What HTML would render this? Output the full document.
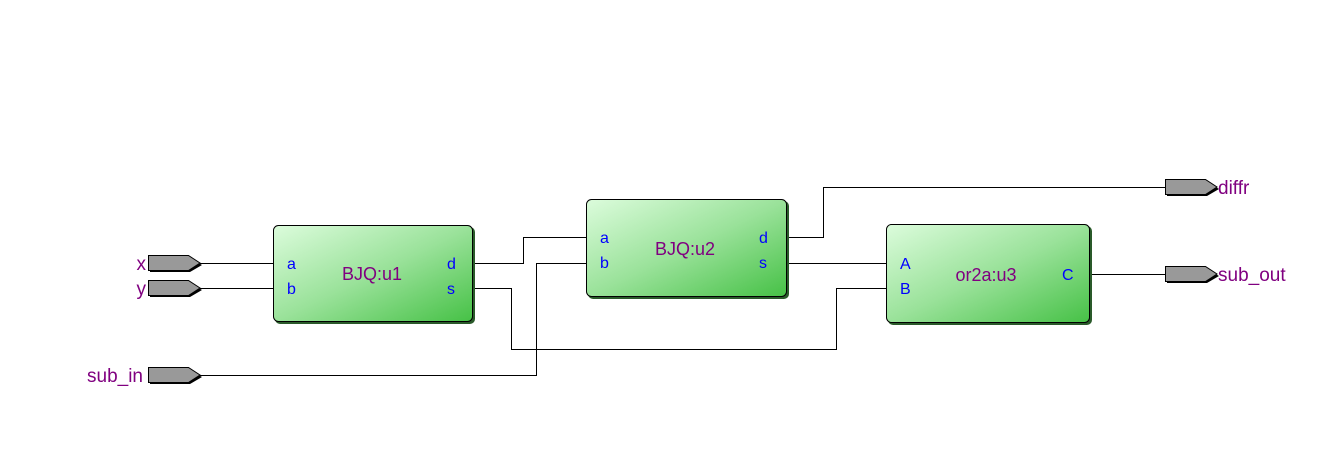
<!DOCTYPE html>
<html><head><meta charset="utf-8"><style>
html,body{margin:0;padding:0;background:#fff;width:1339px;height:454px;overflow:hidden}
svg{display:block}
text{font-family:"Liberation Sans",Arial,sans-serif}
</style></head><body>
<svg width="1339" height="454" viewBox="0 0 1339 454" xmlns="http://www.w3.org/2000/svg">
<defs>
<linearGradient id="g" x1="0" y1="0" x2="1" y2="1">
<stop offset="0" stop-color="#dcfcdc"/><stop offset="0.5" stop-color="#9ae29a"/><stop offset="1" stop-color="#46c146"/>
</linearGradient>
</defs>
<g fill="none" stroke="#000" stroke-width="1">
<path d="M200 263.5H273"/>
<path d="M200 288.5H273"/>
<path d="M473 263.5H523.5V237.5H586"/>
<path d="M473 288.5H511.5V349.5H836.5V288.5H886"/>
<path d="M200 375.5H536.5V263.5H586"/>
<path d="M788 237.5H823.5V187.5H1165"/>
<path d="M788 263.5H886"/>
<path d="M1091 274.5H1165"/>
</g>
<g>
<rect x="275" y="227" width="200" height="97" rx="5" fill="#2a5a2a"/>
<rect x="273.5" y="225.5" width="199" height="96" rx="5" fill="url(#g)" stroke="#000"/>
<rect x="588" y="201" width="201" height="98" rx="5" fill="#2a5a2a"/>
<rect x="586.5" y="199.5" width="200" height="97" rx="5" fill="url(#g)" stroke="#000"/>
<rect x="888" y="226" width="204" height="99" rx="5" fill="#2a5a2a"/>
<rect x="886.5" y="224.5" width="203" height="98" rx="5" fill="url(#g)" stroke="#000"/>
</g>
<g font-size="18" fill="#800080" text-anchor="middle">
<text x="372" y="280">BJQ:u1</text>
<text x="685" y="255">BJQ:u2</text>
<text x="986" y="281">or2a:u3</text>
</g>
<g font-size="16" fill="#0000ff">
<text x="287" y="269">a</text><text x="287" y="294">b</text>
<text x="447" y="269">d</text><text x="447" y="294">s</text>
<text x="600" y="243">a</text><text x="600" y="268">b</text>
<text x="759" y="243">d</text><text x="759" y="268">s</text>
<text x="900" y="269">A</text><text x="900" y="294">B</text>
<text x="1062" y="280">C</text>
</g>
<g stroke="#000" stroke-width="1">
<g id="p">
<path d="M150 258H190L202 265L190 272H150Z" fill="#000" stroke="none"/>
<path d="M148.5 255.5H188.5L200 263L188.5 270.5H148.5Z" fill="#999"/>
</g>
<use href="#p" transform="translate(0,25)"/>
<use href="#p" transform="translate(0,112)"/>
<use href="#p" transform="translate(1017,-76)"/>
<use href="#p" transform="translate(1017,11)"/>
</g>
<g font-size="19" fill="#800080">
<text x="146" y="270" text-anchor="end">x</text>
<text x="146" y="295" text-anchor="end">y</text>
<text x="143" y="382" text-anchor="end">sub_in</text>
<text x="1218" y="194">diffr</text>
<text x="1218" y="281">sub_out</text>
</g>
</svg>
</body></html>
